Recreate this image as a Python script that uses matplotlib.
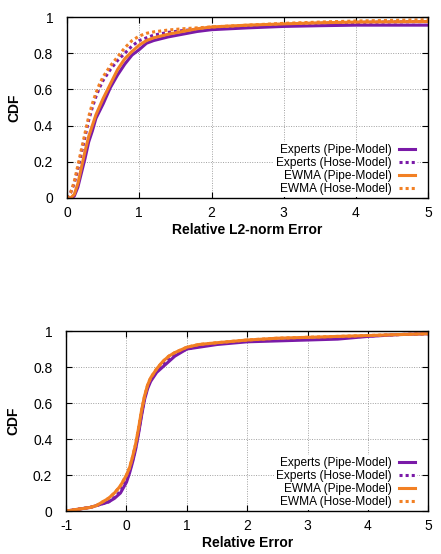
import matplotlib
matplotlib.use('Agg')
import matplotlib.pyplot as plt

plt.rcParams['font.family'] = ['Liberation Sans', 'DejaVu Sans']

labels = ['Experts (Pipe-Model)', 'Experts (Hose-Model)',
          'EWMA (Pipe-Model)', 'EWMA (Hose-Model)']
purple = '#7a1aa8'
orange = '#f28024'

# top panel: relative L2-norm error
l2_x_pipe = [0.05, 0.1, 0.15, 0.2, 0.25, 0.3, 0.35, 0.4, 0.5, 0.6, 0.7, 0.8, 0.9, 1.0,
             1.1, 1.2, 1.4, 1.6, 1.8, 2.0, 2.5, 3.0, 3.5, 4.0, 5.0]
l2_experts_pipe = [0, 0.01, 0.06, 0.14, 0.22, 0.31, 0.37, 0.44, 0.52, 0.61, 0.68, 0.74, 0.79,
                   0.82, 0.855, 0.87, 0.89, 0.905, 0.92, 0.93, 0.94, 0.948, 0.952, 0.955, 0.955]
l2_ewma_pipe = [0, 0.02, 0.08, 0.17, 0.26, 0.34, 0.40, 0.46, 0.55, 0.63, 0.71, 0.77, 0.81,
                0.845, 0.87, 0.885, 0.905, 0.92, 0.935, 0.945, 0.955, 0.962, 0.968, 0.972, 0.975]
l2_x_hose = [0.0, 0.05, 0.1, 0.15, 0.2, 0.25, 0.3, 0.35, 0.4, 0.45, 0.5, 0.6, 0.7, 0.8, 0.9,
             1.0, 1.1, 1.2, 1.4, 1.6, 2.0, 2.5, 3.0, 3.5, 4.0, 5.0]
l2_experts_hose = [0, 0.03, 0.08, 0.16, 0.25, 0.34, 0.43, 0.5, 0.56, 0.61, 0.65, 0.71, 0.76,
                   0.8, 0.84, 0.87, 0.885, 0.9, 0.915, 0.925, 0.94, 0.95, 0.958, 0.965, 0.97, 0.975]
l2_ewma_hose = [0, 0.03, 0.09, 0.18, 0.27, 0.36, 0.45, 0.52, 0.58, 0.63, 0.67, 0.73, 0.78,
                0.83, 0.87, 0.895, 0.91, 0.918, 0.928, 0.935, 0.945, 0.955, 0.965, 0.972, 0.978, 0.985]

# bottom panel: relative error
re_x = [-1, -0.8, -0.6, -0.5, -0.4, -0.3, -0.2, -0.1, 0, 0.05, 0.1, 0.15, 0.2, 0.25, 0.3,
        0.35, 0.4, 0.5, 0.6, 0.7, 0.8, 0.9, 1.0, 1.2, 1.5, 2.0, 2.5, 3.0, 3.5, 4.0, 4.5, 5.0]
re_experts_pipe = [0, 0.01, 0.02, 0.03, 0.04, 0.05, 0.07, 0.1, 0.16, 0.21, 0.27, 0.34, 0.43,
                   0.53, 0.62, 0.68, 0.72, 0.77, 0.8, 0.83, 0.86, 0.88, 0.9, 0.91, 0.925,
                   0.94, 0.945, 0.95, 0.955, 0.97, 0.98, 0.985]
re_experts_hose = [0, 0.01, 0.02, 0.03, 0.04, 0.05, 0.075, 0.11, 0.17, 0.22, 0.28, 0.35, 0.44,
                   0.54, 0.63, 0.69, 0.73, 0.78, 0.81, 0.84, 0.865, 0.885, 0.9, 0.915, 0.93,
                   0.945, 0.95, 0.955, 0.96, 0.972, 0.98, 0.985]
re_ewma_pipe = [0, 0.01, 0.02, 0.03, 0.05, 0.07, 0.1, 0.14, 0.2, 0.24, 0.3, 0.37, 0.46, 0.56,
                0.64, 0.7, 0.74, 0.79, 0.83, 0.86, 0.88, 0.895, 0.91, 0.925, 0.935, 0.95,
                0.96, 0.965, 0.97, 0.975, 0.98, 0.985]
re_ewma_hose = [0, 0.01, 0.02, 0.03, 0.05, 0.07, 0.1, 0.14, 0.2, 0.24, 0.3, 0.37, 0.46, 0.56,
                0.64, 0.7, 0.74, 0.79, 0.83, 0.86, 0.88, 0.895, 0.91, 0.925, 0.935, 0.95,
                0.96, 0.965, 0.97, 0.975, 0.98, 0.985]

dots = (0, (1, 1))


def style_axes(ax, xlim, xticks, xlabel):
    ax.set_xlim(*xlim)
    ax.set_ylim(0, 1)
    ax.set_xticks(xticks)
    ax.set_xticklabels([str(t) for t in xticks])
    ax.set_yticks([0, 0.2, 0.4, 0.6, 0.8, 1])
    ax.set_yticklabels(['0', '0.2', '0.4', '0.6', '0.8', '1'])
    ax.tick_params(direction='in', length=4, width=0.8, labelsize=10,
                   top=True, right=True)
    ax.tick_params(axis='y', pad=10)
    ax.tick_params(axis='x', pad=6)
    ax.grid(True, color='#a0a0a0', linestyle=(0, (1, 1.5)), linewidth=0.7)
    for s in ax.spines.values():
        s.set_linewidth(1.0)
    ax.set_xlabel(xlabel, fontsize=10, fontweight='bold', labelpad=2)
    ax.set_ylabel('CDF', fontsize=10, fontweight='bold', labelpad=9)
    leg = ax.legend(loc='lower right', bbox_to_anchor=(0.97, 0.004), frameon=True,
                    fontsize=8.6, markerfirst=False, handlelength=1.3,
                    handletextpad=0.65, labelspacing=0.08,
                    borderaxespad=0.0, borderpad=0.2)
    leg.get_frame().set_edgecolor('none')
    leg.get_frame().set_facecolor('white')
    leg.get_frame().set_alpha(1.0)


fig = plt.figure(figsize=(4.41, 5.54), dpi=100)
ax1 = fig.add_axes([0.152, 0.6426, 0.819, 0.3267])
ax2 = fig.add_axes([0.150, 0.0776, 0.821, 0.3249])

ax1.plot(l2_x_pipe, l2_experts_pipe, color=purple, lw=2.2, label=labels[0])
ax1.plot(l2_x_hose, l2_experts_hose, color=purple, lw=2.2, ls=dots, label=labels[1])
ax1.plot(l2_x_pipe, l2_ewma_pipe, color=orange, lw=2.2, label=labels[2])
ax1.plot(l2_x_hose, l2_ewma_hose, color=orange, lw=2.2, ls=dots, label=labels[3])
style_axes(ax1, (0, 5), [0, 1, 2, 3, 4, 5], 'Relative L2-norm Error')

ax2.plot(re_x, re_experts_pipe, color=purple, lw=2.2, label=labels[0])
ax2.plot(re_x, re_experts_hose, color=purple, lw=2.2, ls=dots, label=labels[1])
ax2.plot(re_x, re_ewma_pipe, color=orange, lw=2.2, label=labels[2])
ax2.plot(re_x, re_ewma_hose, color=orange, lw=2.2, ls=dots, label=labels[3])
style_axes(ax2, (-1, 5), [-1, 0, 1, 2, 3, 4, 5], 'Relative Error')

fig.savefig('out.png', dpi=100)
